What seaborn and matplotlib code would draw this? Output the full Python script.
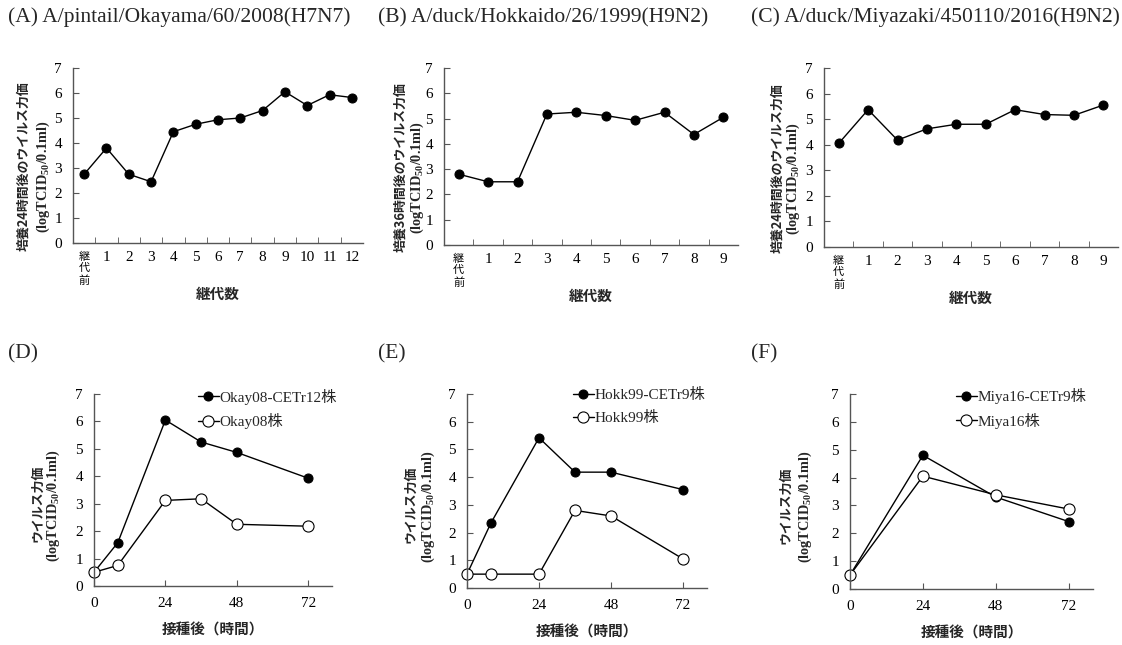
import pandas as pd
import matplotlib
matplotlib.use("Agg")
import matplotlib.pyplot as plt
import seaborn as sns

sns.set_style("ticks")
# フォント設定（欧文はTimes系、和文はゴシック）
plt.rcParams['font.family'] = ['Liberation Serif', 'Noto Sans CJK JP']
plt.rcParams['mathtext.default'] = 'regular'

JP = 'Noto Sans CJK JP'
MIX = ['Liberation Serif', 'Noto Sans CJK JP']
AX_COLOR = '#555555'

# --- 上段：継代ごとのウイルス力価 ---
titles_top = ["(A) A/pintail/Okayama/60/2008(H7N7)",
              "(B) A/duck/Hokkaido/26/1999(H9N2)",
              "(C) A/duck/Miyazaki/450110/2016(H9N2)"]
ylab_top = ["培養24時間後のウイルス力価", "培養36時間後のウイルス力価", "培養24時間後のウイルス力価"]

passage_a = ["継代前", "1", "2", "3", "4", "5", "6", "7", "8", "9", "10", "11", "12"]
titer_a = [2.75, 3.8, 2.75, 2.45, 4.45, 4.75, 4.93, 5.0, 5.3, 6.05, 5.5, 5.93, 5.82]

passage_b = ["継代前", "1", "2", "3", "4", "5", "6", "7", "8", "9"]
titer_b = [2.8, 2.5, 2.5, 5.18, 5.25, 5.12, 4.93, 5.25, 4.37, 5.05]

passage_c = ["継代前", "1", "2", "3", "4", "5", "6", "7", "8", "9"]
titer_c = [4.05, 5.37, 4.18, 4.62, 4.8, 4.8, 5.37, 5.18, 5.15, 5.55]

# --- 下段：増殖曲線 ---
titles_bot = ["(D)", "(E)", "(F)"]
hours_de = [0, 8, 24, 36, 48, 72]
hours_f = [0, 24, 48, 72]

okay_cetr = [0.5, 1.58, 6.05, 5.25, 4.87, 3.93]
okay_wt = [0.5, 0.75, 3.12, 3.18, 2.25, 2.18]
hokk_cetr = [0.5, 2.35, 5.42, 4.18, 4.18, 3.55]
hokk_wt = [0.5, 0.5, 0.5, 2.8, 2.6, 1.05]
miya_cetr = [0.5, 4.8, 3.3, 2.42]
miya_wt = [0.5, 4.05, 3.38, 2.87]

labels_bot = [("Okay08-CETr12株", "Okay08株"),
              ("Hokk99-CETr9株", "Hokk99株"),
              ("Miya16-CETr9株", "Miya16株")]

W, H = 1122, 645
fig = plt.figure(figsize=(W / 100, H / 100), dpi=100)


def px_axes(left, top, right, bottom):
    return fig.add_axes([left / W, 1 - bottom / H, (right - left) / W, (bottom - top) / H])


def style_axes(ax):
    sns.despine(ax=ax)
    for s in ["left", "bottom"]:
        ax.spines[s].set_color(AX_COLOR)
        ax.spines[s].set_linewidth(1.0)
    ax.set_ylim(0, 7)
    ax.set_yticks(range(0, 8))
    ax.tick_params(axis="both", which="both", direction="in", color=AX_COLOR,
                   labelsize=11, labelcolor="black")
    ax.tick_params(axis="y", length=4, pad=8)


def ylabel2(ax, line1, off1, off2, y1, y2):
    ax.annotate(line1, xy=(0, y1), xycoords="axes fraction", xytext=(off1 * 0.72, 0),
                textcoords="offset points", rotation=90, ha="center", va="center",
                family=JP, weight="bold", fontsize=9.3)
    ax.annotate("(logTCID$_{50}$/0.1ml)", xy=(0, y2), xycoords="axes fraction",
                xytext=(off2 * 0.72, 0), textcoords="offset points", rotation=90,
                ha="center", va="center", family="Liberation Serif", weight="bold",
                fontsize=10.3)


# 上段の軸位置（ピクセル）
top_boxes = [(73, 68, 363, 243), (444, 68, 738, 245), (824, 68, 1118, 247)]
top_off = [(-50, -30), (-44, -27), (-47, -31)]
top_title_x = [8, 378, 751]
top_data = [(passage_a, titer_a), (passage_b, titer_b), (passage_c, titer_c)]

for i in range(3):
    cats, vals = top_data[i]
    ax = px_axes(*top_boxes[i])
    df = pd.DataFrame({"pos": range(len(cats)), "titer": vals})
    sns.lineplot(data=df, x="pos", y="titer", ax=ax, color="black", linewidth=1.0,
                 marker="o", markersize=6.5, markeredgecolor="black", markerfacecolor="black")
    style_axes(ax)
    n = len(cats)
    ax.set_xlim(-0.5, n - 0.5)
    ax.set_xticks(range(n))
    ax.set_xticklabels(["\n".join(cats[0])] + cats[1:])
    ax.set_xticks([k + 0.5 for k in range(n - 1)], minor=True)
    ax.tick_params(axis="x", which="major", length=0, pad=6)
    ax.tick_params(axis="x", which="minor", length=4)
    lab0 = ax.get_xticklabels()[0]
    lab0.set_family(JP)
    lab0.set_fontsize(8)
    lab0.set_linespacing(1.2)
    ax.set_xlabel("継代数", family=JP, weight="bold", fontsize=10.5, labelpad=0)
    ax.set_ylabel("")
    ylabel2(ax, ylab_top[i], top_off[i][0], top_off[i][1], 0.44, 0.38)
    fig.text(top_title_x[i] / W, 1 - 22 / H, titles_top[i], fontsize=15.5,
             family="Liberation Serif", ha="left", va="baseline")

# 下段の軸位置（ピクセル）
bot_boxes = [(94, 394, 332, 586), (467, 394, 707, 588), (850, 394, 1093, 589)]
bot_off = [(-57, -41), (-57, -39), (-65, -45)]
bot_title_x = [8, 378, 751]
bot_data = [(hours_de, okay_cetr, okay_wt), (hours_de, hokk_cetr, hokk_wt),
            (hours_f, miya_cetr, miya_wt)]
leg_x = [192, 567, 950]

for i in range(3):
    hrs, cetr, wt = bot_data[i]
    ax = px_axes(*bot_boxes[i])
    df = pd.DataFrame({"hour": hrs + hrs, "titer": cetr + wt,
                       "strain": [labels_bot[i][0]] * len(hrs) + [labels_bot[i][1]] * len(hrs)})
    sub1 = df[df["strain"] == labels_bot[i][0]]
    sub2 = df[df["strain"] == labels_bot[i][1]]
    sns.lineplot(data=sub1, x="hour", y="titer", ax=ax, color="black", linewidth=1.0,
                 marker="o", markersize=6.5, markeredgecolor="black", markerfacecolor="black",
                 label=labels_bot[i][0])
    sns.lineplot(data=sub2, x="hour", y="titer", ax=ax, color="black", linewidth=1.0,
                 marker="o", markersize=8, markeredgecolor="black", markeredgewidth=0.8,
                 markerfacecolor="white", label=labels_bot[i][1])
    style_axes(ax)
    ax.set_xlim(0, 80)
    ax.set_xticks([0, 24, 48, 72])
    ax.tick_params(axis="x", length=4, pad=8)
    ax.set_xlabel("接種後（時間）", family=JP, weight="bold", fontsize=10.5, labelpad=8)
    ax.set_ylabel("")
    for ln in ax.lines:
        ln.set_clip_on(False)
    ylabel2(ax, "ウイルス力価", bot_off[i][0], bot_off[i][1], 0.43, 0.42)
    box = bot_boxes[i]
    lx = (leg_x[i] - box[0]) / (box[2] - box[0])
    ax.legend(loc="upper left", bbox_to_anchor=(lx, 1.06), frameon=False,
              handlelength=1.35, handletextpad=0.05, borderaxespad=0, labelspacing=0.55,
              prop={"family": MIX, "size": 11})
    fig.text(bot_title_x[i] / W, 1 - 358 / H, titles_bot[i], fontsize=15.5,
             family="Liberation Serif", ha="left", va="baseline")

fig.savefig("out.png", dpi=100)
